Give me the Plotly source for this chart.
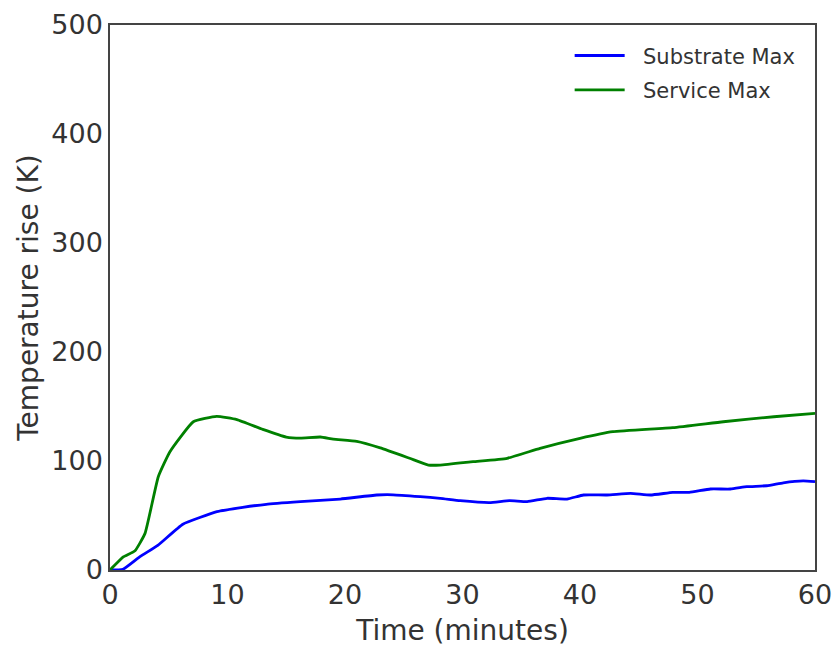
import plotly.graph_objects as go

# Substrate Max (blue)
sub_t = [0, 1.1, 2.55, 4.1, 6.2, 9.1, 11.3, 13.3, 16.2, 19.6, 22.7, 24.1, 26.4, 28.1, 29.8, 32.3, 34.0, 35.5, 37.2,
         38.9, 40.3, 42.3, 44.3, 46.0, 47.9, 49.3, 51.1, 52.8, 54.2, 55.9, 57.3, 59.0, 60]
sub_y = [0, 0.6, 12.2, 22.9, 42, 53.5, 57.5, 60.3, 62.7, 65.1, 68.8, 69, 67.3, 65.8, 63.6, 61.8, 63.6, 62.7, 65.8,
         65.1, 68.8, 68.8, 70.3, 68.8, 71.2, 71.2, 74.3, 74.3, 76.4, 77.3, 80, 81.7, 81]

# Service Max (green)
svc_t = [0, 0.14, 1.13, 2.13, 2.98, 4.11, 5.1, 7.09, 9.08, 10.8, 13.0, 15.0, 16.2, 17.9, 19.0, 21.0, 23.0, 25.5,
         27.1, 28.1, 30.9, 33.8, 36.6, 40.0, 42.8, 47.9, 52.2, 56.5, 60]
svc_y = [0, 1.5, 12, 17.7, 33.6, 85.6, 108.5, 136, 141, 138, 129, 122, 121, 122, 120, 118, 112, 102.5,
         96.3, 96.3, 99.4, 102.5, 111.6, 120.8, 126.9, 130.6, 136, 140.6, 143.7]

x_ticks = [0, 10, 20, 30, 40, 50, 60]
y_ticks = [0, 100, 200, 300, 400, 500]

FONT = "DejaVu Sans"
TXT = "#333333"
NB = "\u00a0\u00a0"

fig = go.Figure()
fig.add_trace(go.Scatter(x=sub_t, y=sub_y, mode="lines", name=NB + "Substrate Max", legendgroup="a",
                         line=dict(color="#0000ff", width=2.8, shape="spline", smoothing=0.4)))
fig.add_trace(go.Scatter(x=svc_t, y=svc_y, mode="lines", name=NB + "Service Max", legendgroup="b",
                         line=dict(color="#008000", width=2.8, shape="spline", smoothing=0.4)))

axis_common = dict(showgrid=False, zeroline=False, showline=True, linecolor="#444444", linewidth=1.5,
                   mirror=True, ticks="", automargin=False,
                   tickfont=dict(family=FONT, size=27, color=TXT))

fig.update_layout(
    width=835, height=647,
    margin=dict(l=110, r=20, t=25, b=77),
    paper_bgcolor="white", plot_bgcolor="white",
    font=dict(family=FONT, color=TXT),
    xaxis=dict(range=[0, 60], tickvals=x_ticks,
               title=dict(text="Time (minutes)", font=dict(family=FONT, size=28, color=TXT)),
               **axis_common),
    yaxis=dict(range=[0, 500], tickvals=y_ticks,
               title=dict(text="Temperature rise (K)", font=dict(family=FONT, size=28, color=TXT), standoff=5),
               **axis_common),
    legend=dict(x=0.652, y=0.981, xanchor="left", yanchor="top", bgcolor="rgba(255,255,255,0)",
                font=dict(family=FONT, size=21, color=TXT), itemwidth=50, tracegroupgap=4),
    showlegend=True,
)

fig.write_html("out.html", config={"displayModeBar": False},
               post_script="document.body.style.margin='0px';document.body.style.overflow='hidden';")
